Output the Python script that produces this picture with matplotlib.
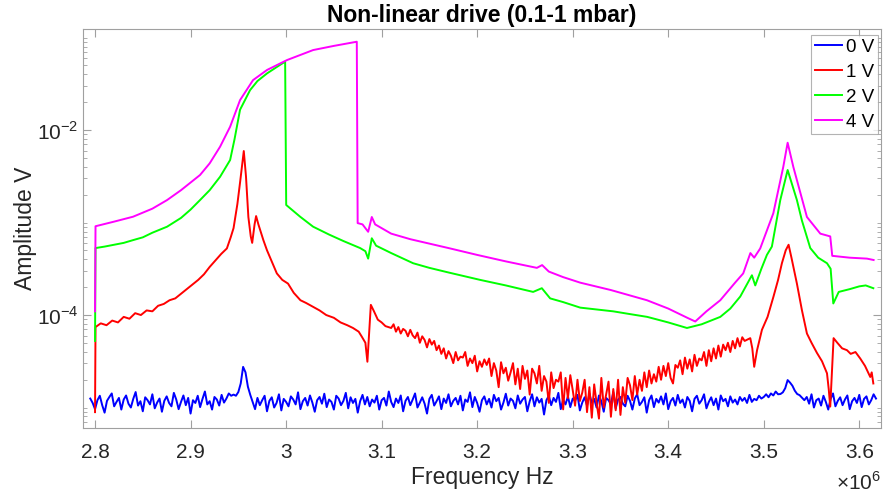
import numpy as np
import matplotlib
matplotlib.use("Agg")
import matplotlib.pyplot as plt
from matplotlib.ticker import FixedLocator, LogLocator, MultipleLocator, FuncFormatter, NullFormatter

plt.rcParams['font.family'] = ['Liberation Sans', 'DejaVu Sans']
plt.rcParams['mathtext.fontset'] = 'custom'
plt.rcParams['mathtext.rm'] = 'Liberation Sans'

# 0 V : evenly stepped sweep, amplitude in units of 0.1 uV
blue_start, blue_step = 2.795, 0.0025   # MHz
blue_amp = [
    125, 112, 96, 120, 134, 106, 88, 118, 130, 142, 103, 115, 127, 95, 122,
    135, 110, 100, 124, 147, 105, 117, 91, 129, 120, 108, 139, 98, 113, 125,
    90, 118, 132, 112, 103, 144, 122, 96, 115, 135, 106, 127, 86, 120, 112,
    134, 101, 124, 149, 108, 117, 95, 130, 122, 105, 137, 113, 125, 142, 134,
    138, 134, 147, 182, 275, 240, 168, 137, 115, 96, 127, 106, 120, 134, 91,
    118, 129, 100, 112, 139, 93, 124, 115, 103, 132, 122, 108, 146, 96, 117,
    127, 105, 135, 113, 90, 120, 130, 110, 141, 101, 122, 115, 95, 134, 125,
    106, 118, 144, 98, 129, 112, 124, 88, 117, 137, 108, 130, 103, 122, 113,
    134, 95, 120, 127, 105, 149, 115, 101, 125, 112, 135, 91, 118, 130, 106,
    122, 142, 100, 113, 129, 110, 86, 124, 137, 105, 117, 132, 96, 125, 112,
    139, 103, 118, 127, 108, 134, 93, 122, 115, 146, 101, 130, 112, 90, 120,
    132, 108, 124, 100, 137, 117, 127, 95, 113, 141, 105, 125, 118, 98, 135,
    110, 122, 130, 91, 117, 139, 103, 129, 113, 124, 84, 120, 134, 106, 127,
    115, 144, 96, 122, 108, 132, 101, 125, 118, 137, 93, 113, 129, 105, 141,
    112, 124, 100, 135, 117, 90, 127, 120, 108, 147, 98, 122, 130, 110, 103,
    134, 118, 95, 125, 139, 106, 115, 129, 88, 120, 135, 101, 124, 113, 132,
    108, 142, 96, 117, 127, 105, 137, 112, 122, 100, 130, 118, 91, 124, 134,
    110, 120, 139, 98, 115, 129, 106, 125, 95, 135, 117, 124, 103, 132, 113,
    122, 108, 130, 118, 127, 112, 137, 115, 124, 120, 134, 125, 130, 139, 129,
    142, 135, 149, 139, 140, 146, 162, 198, 186, 172, 152, 140, 136, 128, 120,
    130, 110, 139, 100, 120, 125, 105, 134, 115, 95, 124, 142, 103, 118, 129,
    106, 122, 135, 96, 117, 127, 112, 137, 101, 124, 132, 108, 120, 139, 125,
]

# 1 V : (MHz, log10 V) before the noisy stretch
red_head_f = [
    2.800, 2.8005, 2.806, 2.812, 2.818, 2.824, 2.830, 2.836, 2.842, 2.848,
    2.854, 2.860, 2.866, 2.872, 2.878, 2.884, 2.890, 2.896, 2.902, 2.908,
    2.914, 2.920, 2.926, 2.932, 2.938, 2.942, 2.945, 2.949, 2.952, 2.9557,
    2.958, 2.9605, 2.963, 2.9645, 2.967, 2.9686, 2.971, 2.9762, 2.980, 2.985,
    2.9903, 2.996, 3.002, 3.008, 3.015, 3.021, 3.028, 3.035, 3.042, 3.050,
    3.057, 3.064, 3.070, 3.076, 3.0793, 3.083, 3.0851, 3.0887, 3.092, 3.096,
    3.100, 3.104,
]
red_head_log = [
    -5.05, -4.13, -4.09, -4.11, -4.06, -4.08, -4.02, -4.04, -3.98, -4.00,
    -3.95, -3.96, -3.90, -3.88, -3.84, -3.82, -3.77, -3.72, -3.67, -3.62,
    -3.56, -3.48, -3.41, -3.34, -3.28, -3.16, -3.06, -2.80, -2.55, -2.227,
    -2.50, -2.94, -3.15, -3.22, -3.02, -2.93, -3.02, -3.19, -3.30, -3.42,
    -3.55, -3.62, -3.66, -3.76, -3.84, -3.87, -3.91, -3.95, -4.00, -4.03,
    -4.08, -4.11, -4.14, -4.18, -4.235, -4.30, -4.505, -3.89, -3.96, -4.05,
    -4.08, -4.12,
]
# 1 V noisy stretch 3.110 .. 3.480 MHz, -log10 V in hundredths
red_mid_start, red_mid_step = 3.110, 0.0025
red_mid = [
    414, 410, 418, 413, 420, 415, 417, 423, 416, 422,
    425, 419, 430, 423, 427, 435, 426, 432, 428, 438,
    433, 442, 436, 447, 439, 444, 452, 440, 449, 445,
    446, 440, 455, 447, 452, 444, 461, 450, 456, 448,
    454, 447, 466, 452, 460, 478, 451, 463, 457, 471,
    462, 452, 475, 458, 480, 455, 469, 460, 486, 458,
    463, 474, 455, 482, 466, 472, 495, 462, 479, 470,
    472, 462, 502, 468, 490, 465, 481, 498, 470, 493,
    484, 470, 505, 478, 511, 475, 495, 512, 468, 500,
    486, 472, 510, 480, 503, 470, 508, 478, 495, 468,
    476, 492, 466, 486, 470, 482, 462, 478, 460, 474,
    464, 472, 456, 470, 455, 466, 452, 468, 474, 454,
    457, 449, 464, 446, 458, 448, 461, 443, 455, 447,
    449, 440, 455, 438, 450, 436, 447, 433, 445, 432,
    438, 430, 440, 428, 436, 425, 434, 424, 428,
]
# 1 V after the noisy stretch
red_tail_f = [
    3.4859, 3.488, 3.490, 3.493, 3.4981, 3.504, 3.5102, 3.515, 3.519, 3.523,
    3.526, 3.529, 3.5347, 3.540, 3.5452, 3.550, 3.5557, 3.561, 3.5662, 3.568,
    3.5696, 3.5715, 3.5731, 3.577, 3.582, 3.5871, 3.591, 3.596, 3.601, 3.606,
    3.6115, 3.613, 3.6147,
]
red_tail_log = [
    -4.25, -4.36, -4.56, -4.38, -4.16, -4.02, -3.80, -3.62, -3.44, -3.30,
    -3.24, -3.38, -3.66, -3.95, -4.20, -4.30, -4.41, -4.50, -4.63, -4.80,
    -4.99, -4.60, -4.25, -4.30, -4.36, -4.38, -4.42, -4.40, -4.47, -4.55,
    -4.67, -4.62, -4.74,
]

# 2 V
green_f = [
    2.800, 2.8005, 2.810, 2.820, 2.830, 2.8398, 2.850, 2.860, 2.8754, 2.890,
    2.900, 2.9099, 2.920, 2.9309, 2.9414, 2.946, 2.9518, 2.9623, 2.970, 2.9801,
    2.990, 2.999, 3.0001, 3.0147, 3.0283, 3.045, 3.060, 3.0775, 3.083, 3.0859,
    3.0897, 3.0942, 3.110, 3.133, 3.150, 3.170, 3.2031, 3.230, 3.2586, 3.2677,
    3.2764, 3.290, 3.3079, 3.3424, 3.360, 3.378, 3.400, 3.4196, 3.435, 3.4545,
    3.465, 3.4754, 3.4876, 3.4911, 3.4975, 3.5033, 3.5085, 3.5173, 3.525, 3.5347,
    3.540, 3.5487, 3.557, 3.5662, 3.5700, 3.5728, 3.5785, 3.590, 3.600, 3.6067,
    3.6147,
]
green_log = [
    -4.28, -3.276, -3.26, -3.24, -3.22, -3.19, -3.16, -3.11, -3.045, -2.95,
    -2.86, -2.757, -2.65, -2.505, -2.324, -2.10, -1.78, -1.568, -1.47, -1.387,
    -1.32, -1.26, -2.81, -2.937, -3.045, -3.13, -3.20, -3.276, -3.31, -3.39,
    -3.17, -3.25, -3.33, -3.44, -3.49, -3.54, -3.62, -3.68, -3.75, -3.71,
    -3.82, -3.86, -3.92, -3.96, -3.99, -4.02, -4.08, -4.14, -4.10, -4.02,
    -3.93, -3.80, -3.57, -3.68, -3.50, -3.35, -3.26, -2.757, -2.432, -2.757,
    -2.98, -3.276, -3.38, -3.44, -3.50, -3.875, -3.75, -3.72, -3.69, -3.68,
    -3.71,
]

# 4 V
mag_f = [
    2.800, 2.8005, 2.820, 2.8398, 2.860, 2.8754, 2.890, 2.9099, 2.920, 2.9309,
    2.9414, 2.9518, 2.9654, 2.9801, 3.0010, 3.0283, 3.050, 3.0740, 3.0749, 3.0800,
    3.0859, 3.0897, 3.0932, 3.110, 3.130, 3.1717, 3.200, 3.230, 3.2625, 3.268,
    3.275, 3.290, 3.3079, 3.340, 3.3777, 3.400, 3.420, 3.4283, 3.440, 3.4545,
    3.470, 3.4785, 3.486, 3.490, 3.4963, 3.510, 3.5204, 3.525, 3.531, 3.5452,
    3.5592, 3.5696, 3.5717, 3.590, 3.608, 3.615,
]
mag_log = [
    -3.96, -3.04, -2.99, -2.937, -2.85, -2.757, -2.65, -2.486, -2.36, -2.18,
    -1.964, -1.676, -1.46, -1.35, -1.243, -1.135, -1.09, -1.045, -3.006, -3.02,
    -3.10, -2.94, -3.02, -3.12, -3.18, -3.28, -3.35, -3.42, -3.49, -3.46,
    -3.53, -3.59, -3.65, -3.73, -3.84, -3.93, -4.03, -4.07, -3.96, -3.84,
    -3.65, -3.55, -3.33, -3.38, -3.28, -2.90, -2.40, -2.137, -2.40, -2.94,
    -3.12, -3.15, -3.36, -3.38, -3.39, -3.405,
]

blue_f = blue_start + blue_step * np.arange(len(blue_amp))
red_mid_f = red_mid_start + red_mid_step * np.arange(len(red_mid))
red_f = np.concatenate([red_head_f, red_mid_f, red_tail_f])
red_log = np.concatenate([red_head_log, -np.array(red_mid) / 100.0, red_tail_log])

fig = plt.figure(figsize=(8.83, 4.96), dpi=100)
ax = fig.add_axes([0.094, 0.1377, 0.9037, 0.8043])

lw = 1.4
ax.plot(blue_f * 1e6, np.array(blue_amp) * 1e-7, color='#0000ff', lw=lw, label='0 V')
ax.plot(red_f * 1e6, 10 ** red_log, color='#ff0000', lw=lw, label='1 V')
ax.plot(np.array(green_f) * 1e6, 10 ** np.array(green_log), color='#00ff00', lw=lw, label='2 V')
ax.plot(np.array(mag_f) * 1e6, 10 ** np.array(mag_log), color='#ff00ff', lw=lw, label='4 V')

ax.set_yscale('log')
ax.set_xlim(2.7874e6, 3.6227e6)
ax.set_ylim(6.05e-6, 0.1245)

ax.xaxis.set_major_locator(MultipleLocator(1e5))
ax.xaxis.set_major_formatter(FuncFormatter(lambda v, _: f'{v/1e6:g}'))
ax.yaxis.set_major_locator(FixedLocator([1e-4, 1e-2]))
ax.yaxis.set_major_formatter(FuncFormatter(lambda v, _: r'$10^{%d}$' % round(np.log10(v))))
ax.yaxis.set_minor_locator(LogLocator(base=10, subs=np.arange(1, 10), numticks=20))
ax.yaxis.set_minor_formatter(NullFormatter())

frame = '#a0a0a0'
for s in ax.spines.values():
    s.set_color(frame)
    s.set_linewidth(0.8)
ax.tick_params(which='both', direction='in', top=True, right=True, color=frame,
               labelcolor='#262626', labelsize=15)
ax.tick_params(which='major', length=6, width=0.8)
ax.tick_params(which='minor', length=3, width=0.6)
ax.tick_params(axis='x', which='major', pad=11)
ax.tick_params(axis='y', which='major', pad=3)

ax.set_xlabel('Frequency Hz', fontsize=16.5, color='#262626', labelpad=3)
ax.set_ylabel('Amplitude V', fontsize=16.5, color='#262626', labelpad=0)
ax.set_title('Non-linear drive (0.1-1 mbar)', fontsize=16.5, fontweight='bold', pad=5)
ax.text(1.0, -0.138, r'$\times10^{6}$', transform=ax.transAxes, ha='right', va='center',
        fontsize=15, color='#262626')

leg = ax.legend(loc='upper right', bbox_to_anchor=(0.996, 0.985), fontsize=13.5,
                frameon=True, fancybox=False, handlelength=1.45, handletextpad=0.2,
                borderpad=0.2, labelspacing=0.42, borderaxespad=0)
leg.get_frame().set_edgecolor(frame)
leg.get_frame().set_linewidth(0.8)

fig.savefig('out.png', dpi=100)
